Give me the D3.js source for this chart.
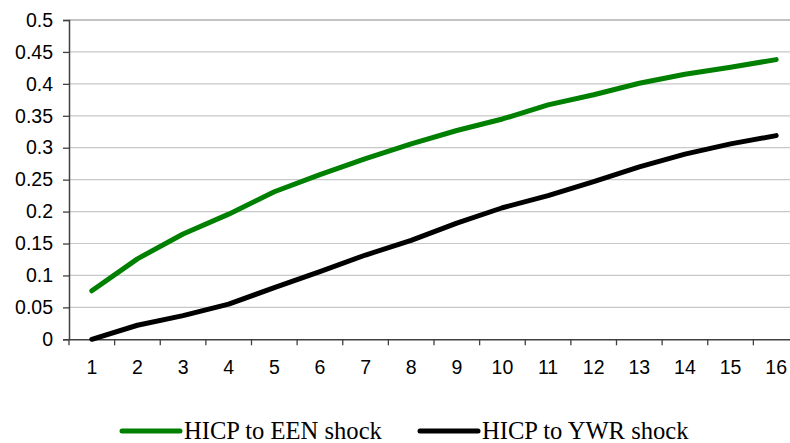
<!DOCTYPE html>
<html><head><meta charset="utf-8">
<script src="https://cdn.jsdelivr.net/npm/d3@7"></script>
<style>body{margin:0;background:#fff}svg{display:block}
.leg{font-family:"Liberation Serif","Times New Roman","DejaVu Serif",serif;font-size:24.6px}
</style>
</head><body><svg id="c" width="790" height="443"></svg>
<script>
const periods = ["1","2","3","4","5","6","7","8","9","10","11","12","13","14","15","16"];
const eenShock = [0.076,0.126,0.165,0.196,0.231,0.258,0.283,0.306,0.327,0.345,0.367,0.383,0.401,0.415,0.426,0.438];
const ywrShock = [0.000,0.022,0.037,0.055,0.081,0.106,0.132,0.155,0.182,0.206,0.225,0.247,0.270,0.290,0.306,0.319];
const yTicks = [0,0.05,0.1,0.15,0.2,0.25,0.3,0.35,0.4,0.45,0.5];
const seriesNames = ["HICP to EEN shock","HICP to YWR shock"];
const seriesColors = ["#008000","#000000"];

const sans = "'Liberation Sans', Arial, sans-serif";

const svg = d3.select("#c");
const L = 69, R = 799, T = 20, B = 339.3;
const x = d3.scaleBand().domain(periods).range([L, R]);
const y = d3.scaleLinear().domain([0, 0.5]).range([B, T]);

// gridlines
svg.append("g").selectAll("line").data(yTicks.filter(d => d > 0)).join("line")
  .attr("x1", L).attr("x2", R).attr("y1", d => y(d)).attr("y2", d => y(d))
  .attr("stroke", d => d === 0.5 ? "#888" : "#c8c8c8").attr("stroke-width", 1.2);

// y axis
const yAxis = svg.append("g").attr("transform", `translate(${L},0)`)
  .call(d3.axisLeft(y).tickValues(yTicks).tickSize(6).tickPadding(10).tickFormat(d => String(+d.toFixed(2))));
yAxis.select(".domain").attr("stroke", "#404040").attr("stroke-width", 1.5);
yAxis.selectAll(".tick line").attr("stroke", "#404040").attr("stroke-width", 1.3);
yAxis.selectAll("text").style("font-family", sans).style("font-size", "19.5px").attr("fill", "#000");

// x axis
const xAxis = svg.append("g").attr("transform", `translate(0,${B})`)
  .call(d3.axisBottom(x).tickSize(0).tickPadding(21));
xAxis.select(".domain").attr("stroke", "#404040").attr("stroke-width", 1.5);
xAxis.selectAll("text").style("font-family", sans).style("font-size", "19.5px").attr("fill", "#000");
// category boundary ticks
svg.append("g").selectAll("line").data(periods).join("line")
  .attr("x1", d => x(d)).attr("x2", d => x(d)).attr("y1", B).attr("y2", B + 6)
  .attr("stroke", "#404040").attr("stroke-width", 1.3);

const line = d3.line().x((d, i) => x(periods[i]) + x.bandwidth() / 2).y(d => y(d));
[eenShock, ywrShock].forEach((s, k) => {
  svg.append("path").datum(s).attr("d", line).attr("fill", "none")
    .attr("stroke", seriesColors[k]).attr("stroke-width", 5)
    .attr("stroke-linecap", "round").attr("stroke-linejoin", "round");
});

// legend
const legX = [122, 420];
seriesNames.forEach((n, k) => {
  const g = svg.append("g");
  g.append("line").attr("x1", legX[k]).attr("x2", legX[k] + 58).attr("y1", 431).attr("y2", 431)
    .attr("stroke", seriesColors[k]).attr("stroke-width", 5).attr("stroke-linecap", "round");
  g.append("text").attr("class", "leg").attr("x", legX[k] + 62).attr("y", 439)
    .attr("fill", "#000").text(n);
});
</script></body></html>
